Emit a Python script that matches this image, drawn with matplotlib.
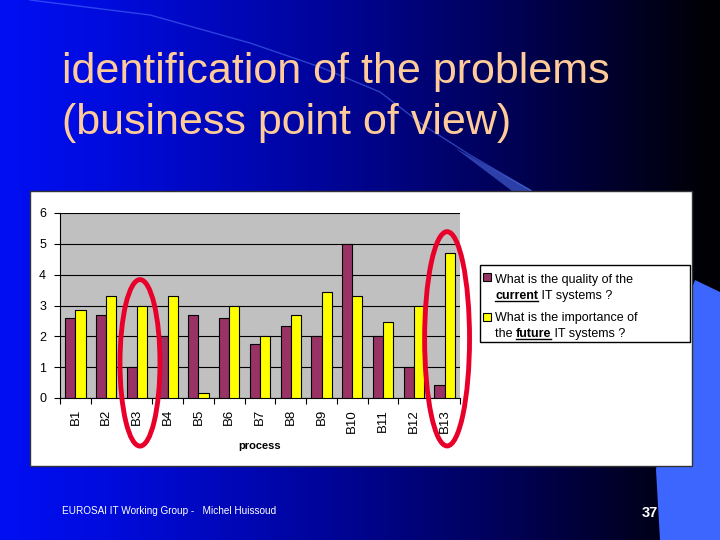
import numpy as np
import matplotlib.pyplot as plt
from matplotlib.patches import Rectangle, Ellipse, Polygon

plt.rcParams['font.family'] = ['Liberation Sans', 'DejaVu Sans']

processes = ["B1", "B2", "B3", "B4", "B5", "B6", "B7", "B8", "B9", "B10", "B11", "B12", "B13"]
current = [2.6, 2.7, 1.0, 2.0, 2.7, 2.6, 1.75, 2.33, 2.0, 5.0, 2.0, 1.0, 0.43]
future = [2.85, 3.3, 3.0, 3.3, 0.17, 3.0, 2.0, 2.7, 3.43, 3.3, 2.45, 3.0, 4.7]
y_ticks = [0, 1, 2, 3, 4, 5, 6]

W, H = 720, 540
fig = plt.figure(figsize=(7.2, 5.4), dpi=100)

# slide background: blue to dark navy gradient
bg = fig.add_axes([0, 0, 1, 1])
bg.set_xlim(0, W)
bg.set_ylim(H, 0)
bg.axis('off')
xs = np.linspace(0, 1, 400)
r = np.zeros_like(xs)
g = 0.06 * (1 - xs) ** 2
b = np.clip(0.95 - 0.95 * xs ** 1.25, 0.02, 1)
grad = np.dstack([r, g, b])[0]
bg.imshow(grad[np.newaxis, :, :], extent=[0, W, H, 0], aspect='auto')

# light arc and wedge
arc_x = [30, 150, 250, 320, 380, 423, 470, 530]
arc_y = [0, 15, 43, 67, 92, 125, 155, 190]
bg.plot(arc_x, arc_y, color='#5a7cff', lw=1.0, alpha=0.5)
bg.add_patch(Polygon([[455, 148], [533, 191], [512, 191]], closed=True,
                     color='#4a6ae0', alpha=0.6, lw=0))
# light blue shape at right
bg.add_patch(Polygon([[695, 280], [720, 292], [720, 540], [660, 540], [656, 470],
                      [665, 380], [680, 320]], closed=True, color='#3d66ff', lw=0))

# title
bg.text(62, 83, "identification of the problems", color='#ffcc99', fontsize=31,
        va='baseline', ha='left')
bg.text(62, 134, "(business point of view)", color='#ffcc99', fontsize=31,
        va='baseline', ha='left')

# white chart panel
bg.add_patch(Rectangle((30, 191), 662, 275, facecolor='white', edgecolor='#333333', lw=1))

# footer
bg.text(62, 514, "EUROSAI IT Working Group -   Michel Huissoud", color='white', fontsize=7.2,
        ha='left', va='baseline')
bg.text(658, 517, "37", color='white', fontsize=10.5, fontweight='bold', ha='right',
        va='baseline')

# main bar chart
ax = fig.add_axes([60 / W, 1 - 398 / H, 400 / W, 185 / H])
x = np.arange(len(processes))
bw = 0.33
ax.bar(x - bw / 2, current, bw, color='#993366', edgecolor='black', lw=0.8, zorder=3)
ax.bar(x + bw / 2, future, bw, color='#ffff00', edgecolor='black', lw=0.8, zorder=3)
ax.set_facecolor('#c0c0c0')
ax.set_xlim(-0.5, len(processes) - 0.5)
ax.set_ylim(0, 6)
ax.set_yticks(y_ticks)
ax.yaxis.grid(True, color='black', lw=0.8, zorder=1)
ax.set_xticks(np.arange(len(processes) + 1) - 0.5, minor=False)
ax.set_xticklabels([])
ax.set_xticks(x, minor=True)
ax.set_xticklabels(processes, minor=True, rotation=90, fontsize=9.5)
ax.tick_params(axis='x', which='minor', length=0, pad=8)
ax.tick_params(axis='x', which='major', length=4, direction='out')
ax.tick_params(axis='y', labelsize=9, length=4, pad=6)
for s in ['top', 'right']:
    ax.spines[s].set_visible(False)
ax.set_xlabel("process", fontsize=8, fontweight='bold', labelpad=6)

# red ellipses
ax.add_patch(Ellipse((2.1, 1.14), 1.3, 5.4, fill=False, edgecolor='#e8002a', lw=3.5,
                     clip_on=False, zorder=5))
ax.add_patch(Ellipse((12.08, 1.92), 1.46, 6.95, fill=False, edgecolor='#e8002a', lw=3.5,
                     clip_on=False, zorder=5))

# legend (drawn by hand to allow underlined words)
bg.add_patch(Rectangle((480, 265), 210, 77, facecolor='white', edgecolor='black', lw=1))
bg.add_patch(Rectangle((483, 273), 8, 8, facecolor='#993366', edgecolor='black', lw=0.8))
bg.add_patch(Rectangle((483, 313), 8, 8, facecolor='#ffff00', edgecolor='black', lw=0.8))
fs = 9
fig.canvas.draw()
rend = fig.canvas.get_renderer()


def text_run(x0, y0, pieces):
    xcur = x0
    for txt, bold in pieces:
        tt = bg.text(xcur, y0, txt, fontsize=fs, fontweight='bold' if bold else 'normal',
                     ha='left', va='baseline', color='black')
        ext = tt.get_window_extent(rend)
        wpx = ext.width
        if bold:
            bg.plot([xcur, xcur + wpx], [y0 + 2, y0 + 2], color='black', lw=1)
        xcur += wpx


text_run(495, 283, [("What is the quality of the", False)])
text_run(495, 299, [("current", True), (" IT systems ?", False)])
text_run(495, 321, [("What is the importance of", False)])
text_run(495, 337, [("the ", False), ("future", True), (" IT systems ?", False)])

fig.savefig("out.png", dpi=100)
